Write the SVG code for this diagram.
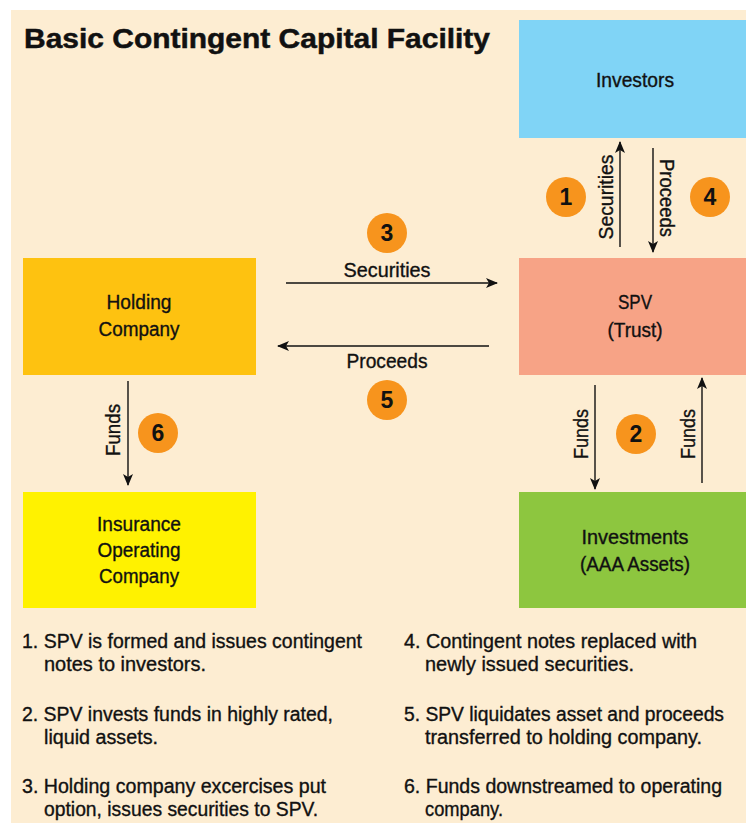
<svg xmlns="http://www.w3.org/2000/svg" width="746" height="823" viewBox="0 0 746 823">
  <style>
    text { font-family: "Liberation Sans", Arial, sans-serif; fill: #111; }
    .title { font-size: 27.5px; font-weight: bold; stroke: #111; stroke-width: 0.5px; }
    .node, .lbl, .note { font-size: 20px; stroke: #111; stroke-width: 0.35px; }
    .node, .lbl { text-anchor: middle; }
    .num { font-size: 23px; font-weight: bold; text-anchor: middle; }
    .badge { fill: #f7941d; }
    .conn line { stroke: #111; stroke-width: 1.4; marker-end: url(#arrow); }
  </style>
  <defs>
    <marker id="arrow" viewBox="0 0 12 10" refX="11" refY="5" markerWidth="12" markerHeight="10" markerUnits="userSpaceOnUse" orient="auto">
      <path d="M0,0 L12,5 L0,10 L3,5 Z" fill="#111"/>
    </marker>
  </defs>

  <!-- page background -->
  <rect x="11" y="10" width="735" height="813" fill="#fdedd2"/>

  <text class="title" x="24" y="48" textLength="466" lengthAdjust="spacingAndGlyphs">Basic Contingent Capital Facility</text>

  <g id="investors">
    <rect x="519" y="20" width="227" height="118" fill="#80d4f6"/>
    <text class="node" x="635" y="87" textLength="78" lengthAdjust="spacingAndGlyphs">Investors</text>
  </g>
  <g id="spv">
    <rect x="519" y="258" width="227" height="117" fill="#f7a386"/>
    <text class="node" x="635" y="309" textLength="34" lengthAdjust="spacingAndGlyphs">SPV</text>
    <text class="node" x="635" y="337" textLength="55" lengthAdjust="spacingAndGlyphs">(Trust)</text>
  </g>
  <g id="investments">
    <rect x="519" y="492" width="227" height="116" fill="#8dc63f"/>
    <text class="node" x="635" y="544" textLength="107" lengthAdjust="spacingAndGlyphs">Investments</text>
    <text class="node" x="635" y="571" textLength="110" lengthAdjust="spacingAndGlyphs">(AAA Assets)</text>
  </g>
  <g id="holding">
    <rect x="23" y="258" width="233" height="117" fill="#fec210"/>
    <text class="node" x="139" y="309" textLength="65" lengthAdjust="spacingAndGlyphs">Holding</text>
    <text class="node" x="139" y="336" textLength="81" lengthAdjust="spacingAndGlyphs">Company</text>
  </g>
  <g id="insurance">
    <rect x="23" y="492" width="233" height="116" fill="#fff200"/>
    <text class="node" x="139" y="531" textLength="84" lengthAdjust="spacingAndGlyphs">Insurance</text>
    <text class="node" x="139" y="557" textLength="83" lengthAdjust="spacingAndGlyphs">Operating</text>
    <text class="node" x="139" y="583" textLength="80" lengthAdjust="spacingAndGlyphs">Company</text>
  </g>

  <g id="connectors" class="conn">
    <line x1="620" y1="247" x2="620" y2="142"/>
    <line x1="653" y1="148" x2="653" y2="252"/>
    <line x1="286" y1="283" x2="497" y2="283"/>
    <line x1="489" y1="346" x2="278" y2="346"/>
    <line x1="595" y1="385" x2="595" y2="489"/>
    <line x1="702" y1="483" x2="702" y2="378"/>
    <line x1="128" y1="381" x2="128" y2="485"/>
  </g>

  <g id="connector-labels">
    <text class="lbl" transform="translate(613,197) rotate(-90)" textLength="85" lengthAdjust="spacingAndGlyphs">Securities</text>
    <text class="lbl" transform="translate(660,198) rotate(90)" textLength="78" lengthAdjust="spacingAndGlyphs">Proceeds</text>
    <text class="lbl" x="387" y="277" textLength="87" lengthAdjust="spacingAndGlyphs">Securities</text>
    <text class="lbl" x="387" y="368" textLength="81" lengthAdjust="spacingAndGlyphs">Proceeds</text>
    <text class="lbl" transform="translate(588,434) rotate(-90)" textLength="50" lengthAdjust="spacingAndGlyphs">Funds</text>
    <text class="lbl" transform="translate(695,434) rotate(-90)" textLength="50" lengthAdjust="spacingAndGlyphs">Funds</text>
    <text class="lbl" transform="translate(120,430) rotate(-90)" textLength="52" lengthAdjust="spacingAndGlyphs">Funds</text>
  </g>

  <g id="badges">
    <circle class="badge" cx="566" cy="197" r="20"/>
    <text class="num" x="566" y="205">1</text>
    <circle class="badge" cx="636" cy="434" r="20"/>
    <text class="num" x="636" y="442">2</text>
    <circle class="badge" cx="387" cy="233" r="20"/>
    <text class="num" x="387" y="241">3</text>
    <circle class="badge" cx="710" cy="197" r="20"/>
    <text class="num" x="710" y="205">4</text>
    <circle class="badge" cx="387" cy="400" r="20"/>
    <text class="num" x="387" y="408">5</text>
    <circle class="badge" cx="158" cy="433" r="20"/>
    <text class="num" x="158" y="441">6</text>
  </g>

  <g id="notes">
    <text class="note" x="22" y="648" textLength="340" lengthAdjust="spacingAndGlyphs">1. SPV is formed and issues contingent</text>
    <text class="note" x="44" y="671" textLength="162" lengthAdjust="spacingAndGlyphs">notes to investors.</text>
    <text class="note" x="22" y="721" textLength="311" lengthAdjust="spacingAndGlyphs">2. SPV invests funds in highly rated,</text>
    <text class="note" x="44" y="744" textLength="114" lengthAdjust="spacingAndGlyphs">liquid assets.</text>
    <text class="note" x="22" y="793" textLength="304" lengthAdjust="spacingAndGlyphs">3. Holding company excercises put</text>
    <text class="note" x="44" y="816" textLength="274" lengthAdjust="spacingAndGlyphs">option, issues securities to SPV.</text>
    <text class="note" x="404" y="648" textLength="293" lengthAdjust="spacingAndGlyphs">4. Contingent notes replaced with</text>
    <text class="note" x="425" y="671" textLength="209" lengthAdjust="spacingAndGlyphs">newly issued securities.</text>
    <text class="note" x="404" y="721" textLength="320" lengthAdjust="spacingAndGlyphs">5. SPV liquidates asset and proceeds</text>
    <text class="note" x="425" y="744" textLength="277" lengthAdjust="spacingAndGlyphs">transferred to holding company.</text>
    <text class="note" x="404" y="793" textLength="318" lengthAdjust="spacingAndGlyphs">6. Funds downstreamed to operating</text>
    <text class="note" x="425" y="816" textLength="78" lengthAdjust="spacingAndGlyphs">company.</text>
  </g>
</svg>
